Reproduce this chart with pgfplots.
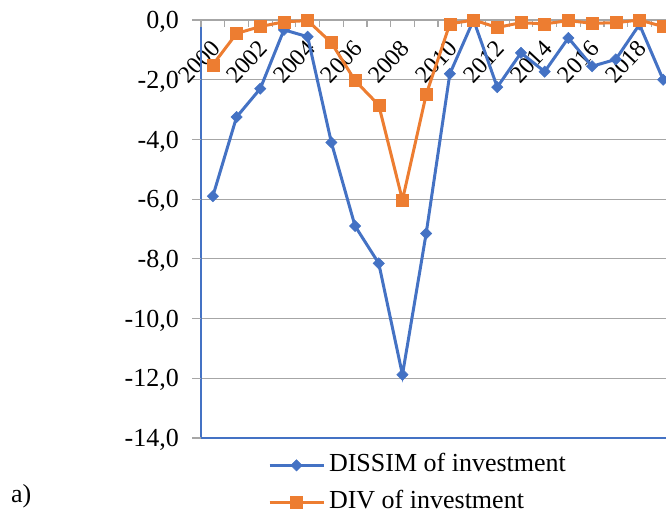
\documentclass[border=0pt]{standalone}
\usepackage{pgfplots}
\pgfplotsset{compat=1.18}
\usepackage{pgfplotstable}
\usepackage{fontspec}
\setmainfont{Liberation Serif}
\definecolor{sblue}{RGB}{68,114,196}
\definecolor{sorange}{RGB}{237,125,49}
\definecolor{ggray}{RGB}{166,166,166}
\newcommand{\bigfont}{\fontsize{26}{30}\selectfont}
\newcommand{\midfont}{\fontsize{24}{28}\selectfont}
\pgfplotstableread{
year dissim div
2000 -5.90 -1.50
2001 -3.25 -0.45
2002 -2.30 -0.22
2003 -0.33 -0.06
2004 -0.56 -0.02
2005 -4.10 -0.76
2006 -6.90 -2.03
2007 -8.15 -2.85
2008 -11.88 -6.03
2009 -7.15 -2.50
2010 -1.80 -0.13
2011 0.00 0.00
2012 -2.25 -0.25
2013 -1.10 -0.09
2014 -1.73 -0.13
2015 -0.60 -0.02
2016 -1.55 -0.11
2017 -1.32 -0.09
2018 -0.15 0.00
2019 -2.00 -0.22
}\data
\begin{document}
\begin{tikzpicture}
\useasboundingbox (0,0) rectangle (666pt,-514pt);
\clip (0,0) rectangle (666pt,-514pt);
\begin{axis}[
  at={(201pt,-438pt)}, anchor=south west,
  scale only axis, width=474pt, height=418pt,
  xmin=1999.5, xmax=2019.5, ymin=-14, ymax=0,
  clip=false,
  axis line style={draw=none},
  tick style={draw=none},
  ytick={-14,-12,...,0},
  yticklabels={{-14,0},{-12,0},{-10,0},{-8,0},{-6,0},{-4,0},{-2,0},{0,0}},
  xtick={2000,2002,...,2018},
  xticklabels={2000,2002,2004,2006,2008,2010,2012,2014,2016,2018},
  xticklabel pos=upper,
  xticklabel style={font=\midfont, inner sep=0pt, yshift=-24pt, xshift=3pt, rotate=47, anchor=east},
  yticklabel style={font=\bigfont, inner sep=0pt, xshift=-22pt, yshift=-2pt, anchor=east},
  ymajorgrids, grid style={ggray, line width=1.2pt},
  legend style={at={(0.141,-0.035)}, anchor=north west, draw=none, fill=none,
    font=\bigfont, row sep=12pt, inner sep=0pt,
    nodes={inner xsep=4pt, inner ysep=0pt, text height=19pt, text depth=6pt}},
  legend cell align=left,
  legend image code/.code={\draw[mark repeat=2,mark phase=2,#1] plot coordinates {(0pt,0pt)(27pt,0pt)(54pt,0pt)};},
]
\draw[sblue, line width=1.5pt] (axis cs:2019.5,-14) -- (axis cs:1999.5,-14) -- (axis cs:1999.5,0) -- (axis cs:2019.5,0);
\pgfplotsinvokeforeach{-14,-12,...,0}{\draw[ggray, line width=1.2pt] (axis cs:1999.5,#1) -- ++(-9pt,0pt);}
\draw[ggray, line width=1.2pt] (axis cs:1999.5,0) -- (axis cs:2019.5,0);
\pgfplotsinvokeforeach{1999.5,2000.5,...,2019.5}{\draw[ggray, line width=1.2pt] (axis cs:#1,0) -- ++(0pt,-7pt);}
\addplot[sblue, line width=3pt, mark=square*, mark size=4pt, mark options={rotate=45, line width=0.5pt, fill=sblue}] table[x=year, y=dissim] {\data};
\addlegendentry{DISSIM of investment}
\addplot[sorange, line width=3pt, mark=square*, mark size=6pt, mark options={line width=0.5pt, fill=sorange}] table[x=year, y=div] {\data};
\addlegendentry{DIV of investment}
\end{axis}
\node[anchor=west, inner sep=0pt, font=\bigfont] at (11pt,-496pt) {a)};
\end{tikzpicture}
\end{document}
